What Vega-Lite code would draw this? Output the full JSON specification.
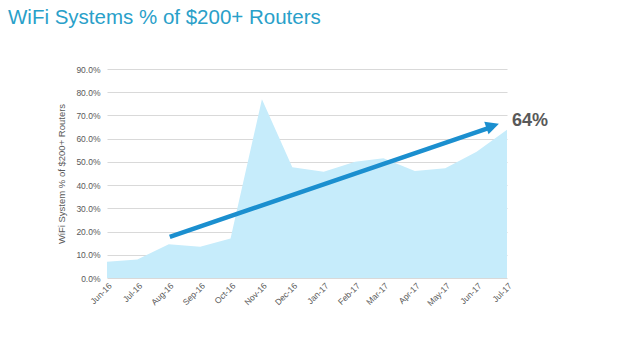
{
  "$schema": "https://vega.github.io/schema/vega-lite/v6.json",
  "autosize": "none",
  "width": 400,
  "height": 209,
  "padding": {"left": 107, "top": 69, "right": 133, "bottom": 73},
  "background": "white",
  "title": {
    "text": "WiFi Systems % of $200+ Routers",
    "anchor": "start",
    "frame": "group",
    "dx": -99,
    "offset": 37,
    "font": "Liberation Sans",
    "fontSize": 20.5,
    "fontWeight": "normal",
    "color": "#29a0c9"
  },
  "config": {
    "view": {"stroke": null},
    "font": "Liberation Sans"
  },
  "encoding": {
    "x": {
      "field": "month",
      "type": "temporal",
      "scale": {"type": "utc", "domain": ["2016-06-01", "2017-07-01"], "nice": false},
      "axis": {
        "title": null,
        "format": "%b-%y",
        "tickCount": {"interval": "month", "step": 1},
        "labelAngle": -45,
        "labelAlign": "right",
        "labelBaseline": "top",
        "labelFontSize": 8.5,
        "labelColor": "#595959",
        "labelPadding": 3,
        "labelOverlap": false,
        "ticks": false,
        "domain": false,
        "grid": false
      }
    },
    "y": {
      "field": "share",
      "type": "quantitative",
      "scale": {"domain": [0, 0.9], "nice": false},
      "axis": {
        "title": "WiFi System % of $200+ Routers",
        "titleFontSize": 9.5,
        "titleFontWeight": "normal",
        "titleColor": "#595959",
        "titlePadding": 9,
        "format": ".1%",
        "values": [0, 0.1, 0.2, 0.3, 0.4, 0.5, 0.6, 0.7, 0.8, 0.9],
        "labelFontSize": 8.5,
        "labelColor": "#595959",
        "labelPadding": 7,
        "labelOverlap": false,
        "ticks": false,
        "domain": false,
        "grid": true,
        "gridColor": "#d9d9d9",
        "gridWidth": 1
      }
    }
  },
  "layer": [
    {
      "data": {
        "values": [
          {"month": "2016-06-01", "share": 0.070},
          {"month": "2016-07-01", "share": 0.080},
          {"month": "2016-08-01", "share": 0.145},
          {"month": "2016-09-01", "share": 0.135},
          {"month": "2016-10-01", "share": 0.170},
          {"month": "2016-11-01", "share": 0.770},
          {"month": "2016-12-01", "share": 0.477},
          {"month": "2017-01-01", "share": 0.458},
          {"month": "2017-02-01", "share": 0.501},
          {"month": "2017-03-01", "share": 0.516},
          {"month": "2017-04-01", "share": 0.461},
          {"month": "2017-05-01", "share": 0.473},
          {"month": "2017-06-01", "share": 0.544},
          {"month": "2017-07-01", "share": 0.638}
        ]
      },
      "mark": {"type": "area", "color": "#c6ecfb", "opacity": 1}
    },
    {
      "data": {"values": [{"month": "2016-08-02", "share": 0.177, "month2": "2017-06-17", "share2": 0.652}]},
      "mark": {"type": "rule", "color": "#1b8fcf", "strokeWidth": 4.5},
      "encoding": {
        "x2": {"field": "month2"},
        "y2": {"field": "share2"}
      }
    },
    {
      "data": {"values": [{"month": "2017-06-23", "share": 0.664}]},
      "mark": {
        "type": "point",
        "shape": "M0,0L-1,-0.5L-1,0.5Z",
        "filled": true,
        "color": "#1b8fcf",
        "opacity": 1,
        "size": 700,
        "angle": -19
      }
    },
    {
      "data": {"values": [{"month": "2017-07-01", "share": 0.674, "label": "64%"}]},
      "mark": {
        "type": "text",
        "align": "left",
        "baseline": "middle",
        "dx": 5,
        "fontSize": 18,
        "fontWeight": "bold",
        "color": "#595959"
      },
      "encoding": {
        "text": {"field": "label"}
      }
    }
  ]
}
